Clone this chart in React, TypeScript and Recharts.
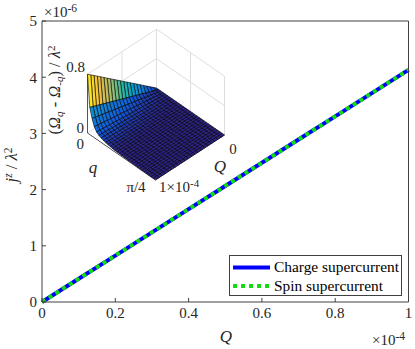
import React from "react";
import { LineChart, Line, XAxis, YAxis, Legend, ScatterChart, Scatter } from "recharts";

const W = 415;
const H = 349;
const FONT = "'Liberation Serif', 'Times New Roman', serif";
const INK = "#404040";
const TEXT = "#262626";

const qValues = [0, 0.1, 0.2, 0.3, 0.4, 0.5, 0.6, 0.7, 0.8, 0.9, 1];
const chargeCurrent = [0, 0.413, 0.826, 1.239, 1.652, 2.065, 2.478, 2.891, 3.304, 3.717, 4.13];
const spinCurrent = [0, 0.413, 0.826, 1.239, 1.652, 2.065, 2.478, 2.891, 3.304, 3.717, 4.13];
const xTicks = [0, 0.2, 0.4, 0.6, 0.8, 1];
const yTicks = [0, 1, 2, 3, 4, 5];
const mainData = qValues.map((Q, i) => ({ Q, charge: chargeCurrent[i], spin: spinCurrent[i] }));

// inset surface: (Omega_q - Omega_-q)/lambda^2 at Q = 1e-4 for each q row, scaled linearly in Q
const surfaceQ = [0, 0.048, 0.095, 0.143, 0.19, 0.238, 0.286, 0.333, 0.381, 0.429, 0.476, 0.524, 0.571, 0.619, 0.667, 0.714, 0.762, 0.81, 0.857, 0.905, 0.952, 1];
const surfaceProfile = [0.8, 0.37, 0.24, 0.15, 0.1, 0.075, 0.06, 0.05, 0.04, 0.034, 0.029, 0.025, 0.022, 0.019, 0.017, 0.015, 0.013, 0.012, 0.011, 0.01, 0.009, 0.008, 0.007, 0.006, 0.005, 0.005, 0.004, 0.004, 0.003, 0.003, 0.003];
const rowLevel = [0.95, 0.3, 0.22, 0.17, 0.13, 0.1, 0.08, 0.06, 0.045, 0.03, 0.02, 0.01, 0.005, 0, 0, 0, 0, 0, 0, 0, 0, 0, 0, 0, 0, 0, 0, 0, 0, 0];
const parula = ["#2c2288", "#0f5cdd", "#1481d6", "#06a4ca", "#2eb7a4", "#87bf77", "#d1bb59", "#fec832", "#f9fb0e"];

// projection of the inset box
const BACK = { x: 156.5, y: 88 };
const Q_VEC = { x: -69, y: 45 };
const Q_ROW_VEC = { x: 68, y: 47 };
const Z_PX = 73.5;
const project = (Qf: number, qf: number, z: number) => ({
  x: BACK.x + Qf * Q_VEC.x + qf * Q_ROW_VEC.x,
  y: BACK.y + Qf * Q_VEC.y + qf * Q_ROW_VEC.y - z * Z_PX,
});

const hexToRgb = (h: string) => [1, 3, 5].map((i) => parseInt(h.slice(i, i + 2), 16));
const colorOf = (t: number) => {
  const v = Math.min(0.9999, Math.max(0, t)) * (parula.length - 1);
  const k = Math.floor(v);
  const a = hexToRgb(parula[k]);
  const b = hexToRgb(parula[k + 1]);
  const f = v - k;
  return `rgb(${a.map((c, i) => Math.round(c + (b[i] - c) * f)).join(",")})`;
};

const nRows = surfaceProfile.length - 1;
const cells: any[] = [];
for (let i = 0; i < surfaceQ.length - 1; i++) {
  for (let j = 0; j < nRows; j++) {
    const Q0 = surfaceQ[i];
    const Q1 = surfaceQ[i + 1];
    const q0 = j / nRows;
    const q1 = (j + 1) / nRows;
    const a = project(Q0, q0, Q0 * surfaceProfile[j]);
    const corners = [a, project(Q1, q0, Q1 * surfaceProfile[j]), project(Q1, q1, Q1 * surfaceProfile[j + 1]), project(Q0, q1, Q0 * surfaceProfile[j + 1])];
    cells.push({ x: a.x, y: a.y, corners, fill: colorOf(Q1 * rowLevel[j]) });
  }
}

const CellShape = (props: any) => {
  const { cx, cy, payload } = props;
  const dx = cx - payload.x;
  const dy = cy - payload.y;
  const pts = payload.corners.map((c: any) => `${c.x + dx},${c.y + dy}`).join(" ");
  return <polygon points={pts} fill={payload.fill} stroke="#000000" strokeWidth={0.6} />;
};
const NoShape = () => null;

const seg = (a: number[], b: number[]) => [project(a[0], a[1], a[2]), project(b[0], b[1], b[2])];
const gridLines = [
  seg([1, 0, 0.8], [0, 0, 0.8]),
  seg([0, 0, 0.8], [0, 1, 0.8]),
  seg([1, 0, 0.4], [0, 0, 0.4]),
  seg([0, 0, 0.4], [0, 1, 0.4]),
  seg([0, 0, 0], [0, 0, 0.8]),
  seg([0.5, 0, 0], [0.5, 0, 0.8]),
  seg([0, 0.5, 0], [0, 0.5, 0.8]),
  seg([0, 1, 0], [0, 1, 0.8]),
  seg([1, 0, 0], [0, 0, 0]),
  seg([0, 0, 0], [0, 1, 0]),
];
const boxLines = [
  seg([1, 0, 0], [1, 0, 0.8]),
  seg([1, 0, 0], [1, 1, 0]),
  seg([1, 1, 0], [0, 1, 0]),
];

const LegendBox = (props: any) => {
  const items = props.payload || [];
  return (
    <svg width={173} height={41} style={{ display: "block" }}>
      <rect x={0.5} y={0.5} width={172} height={40} fill="#fff" stroke={INK} strokeWidth={1} />
      {items.map((it: any, i: number) => {
        const y = 12.5 + i * 18.5;
        return (
          <g key={it.value}>
            <line x1={4} x2={41} y1={y} y2={y} stroke={it.color} strokeWidth={4} strokeDasharray={i === 0 ? undefined : "4 4"} />
            <text x={45} y={y + 4.5} fontFamily={FONT} fontSize={15.4} fill="#000">{it.value}</text>
          </g>
        );
      })}
    </svg>
  );
};

const axisProps = { stroke: INK, tick: { fontFamily: FONT, fontSize: 15, fill: TEXT }, tickLine: { stroke: INK } };

export default function App() {
  return (
    <div style={{ position: "absolute", left: 0, top: 0, width: W, height: H, background: "#fff" }}>
      <div style={{ position: "absolute", left: 0, top: 0 }}>
        <LineChart width={W} height={H} data={mainData} margin={{ top: 20, left: 41, right: 5.5, bottom: 46 }}>
          <XAxis xAxisId="b" dataKey="Q" type="number" domain={[0, 1]} ticks={xTicks} height={1} tickSize={-4} tickMargin={9} {...axisProps} />
          <XAxis xAxisId="t" dataKey="Q" type="number" orientation="top" domain={[0, 1]} ticks={xTicks} height={1} tickSize={-4} tick={false} stroke={INK} tickLine={{ stroke: INK }} />
          <YAxis yAxisId="l" type="number" domain={[0, 5]} ticks={yTicks} width={1} tickSize={-4} tickMargin={9} {...axisProps} />
          <YAxis yAxisId="r" type="number" orientation="right" domain={[0, 5]} ticks={yTicks} width={1} tickSize={-4} tick={false} stroke={INK} tickLine={{ stroke: INK }} />
          <Legend layout="horizontal" verticalAlign="middle" align="center" content={<LegendBox />} wrapperStyle={{ position: "absolute", left: 229, top: 255, width: 173, height: 41 }} />
          <Line xAxisId="b" yAxisId="l" dataKey="charge" name="Charge supercurrent" stroke="#0000ff" strokeWidth={4} dot={false} isAnimationActive={false} />
          <Line xAxisId="b" yAxisId="l" dataKey="spin" name="Spin supercurrent" stroke="#10dc10" strokeWidth={4} strokeDasharray="4 4" dot={false} isAnimationActive={false} />
        </LineChart>
      </div>
      <div style={{ position: "absolute", left: 0, top: 0 }}>
        <ScatterChart width={W} height={H} margin={{ top: 0, left: 0, right: 0, bottom: 0 }}>
          <XAxis type="number" dataKey="x" domain={[0, W]} hide height={0} />
          <YAxis type="number" dataKey="y" domain={[0, H]} reversed hide width={0} />
          {gridLines.map((d, i) => (
            <Scatter key={`g${i}`} data={d} line={{ stroke: "#dedede", strokeWidth: 1 }} shape={NoShape} isAnimationActive={false} />
          ))}
          {boxLines.map((d, i) => (
            <Scatter key={`b${i}`} data={d} line={{ stroke: "#555555", strokeWidth: 1 }} shape={NoShape} isAnimationActive={false} />
          ))}
          <Scatter data={cells} shape={CellShape} isAnimationActive={false} />
        </ScatterChart>
      </div>
      <svg width={W} height={H} style={{ position: "absolute", left: 0, top: 0, pointerEvents: "none" }} fontFamily={FONT} fill={TEXT}>
        <text x={44} y={17} fontSize={15}>×10<tspan dy={-5} fontSize={11.5}>-6</tspan></text>
        <text x={372} y={345} fontSize={15}>×10<tspan dy={-5} fontSize={11.5}>-4</tspan></text>
        <text x={226} y={342} fontSize={17} fontStyle="italic" textAnchor="middle">Q</text>
        <text transform="translate(17,165) rotate(-90)" fontSize={17} textAnchor="middle">
          <tspan fontStyle="italic">j</tspan><tspan dy={-5} fontSize={11.5} fontStyle="italic">z</tspan><tspan dy={5} dx={4}>/</tspan><tspan dx={4} fontStyle="italic">λ</tspan><tspan dy={-5} fontSize={11.5}>2</tspan>
        </text>
        <text x={85} y={72} fontSize={15} textAnchor="end">0.8</text>
        <text x={84} y={133} fontSize={15} textAnchor="end">0</text>
        <text x={84} y={149} fontSize={15} textAnchor="end">0</text>
        <text x={93} y={173} fontSize={17} fontStyle="italic" textAnchor="middle">q</text>
        <text x={136} y={192} fontSize={15} textAnchor="middle">π/4</text>
        <text x={159} y={192} fontSize={15}>1×10<tspan dy={-5} fontSize={11}>-4</tspan></text>
        <text x={233} y={154} fontSize={15} textAnchor="middle">0</text>
        <text x={220} y={172} fontSize={17} fontStyle="italic" textAnchor="middle">Q</text>
        <text transform="translate(60,90) rotate(-90)" fontSize={16.5} textAnchor="middle">
          (<tspan fontStyle="italic">Ω</tspan><tspan dy={3} fontSize={11} fontStyle="italic">q</tspan><tspan dy={-3}> - </tspan><tspan fontStyle="italic">Ω</tspan><tspan dy={3} fontSize={11} fontStyle="italic">-q</tspan><tspan dy={-3}>) / </tspan><tspan fontStyle="italic">λ</tspan><tspan dy={-5} fontSize={11}>2</tspan>
        </text>
      </svg>
    </div>
  );
}
